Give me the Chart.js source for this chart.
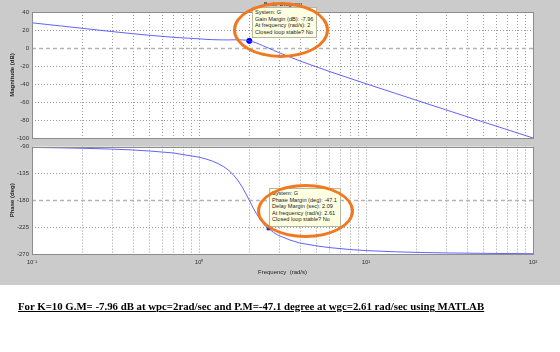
<!DOCTYPE html>
<html>
<head>
<meta charset="utf-8">
<script src="https://cdn.jsdelivr.net/npm/chart.js@4.4.1/dist/chart.umd.min.js"></script>
<style>
  html, body { margin: 0; padding: 0; background: #fff; }
  #fig { position: relative; width: 560px; height: 352px; overflow: hidden; font-family: "Liberation Sans", Arial, sans-serif; }
  #gray { position: absolute; left: 0; top: 0; width: 560px; height: 285px; background: #cbcbcb; }
  canvas { position: absolute; left: 0; }
  #cMag { top: 0; }
  #cPhase { top: 140px; }
  .title { position: absolute; left: 250px; top: 1px; width: 66px; text-align: center; font-size: 6px; color: #222; }
  .tip { position: absolute; background: #ffffe1; border: 1px solid #b8b8a0; font-size: 5.6px; line-height: 6.6px; color: #222; padding: 1px 2px; box-sizing: border-box; white-space: nowrap; }
  .ring { position: absolute; border: 3px solid #f2781f; border-radius: 50%; box-sizing: border-box; }
  #caption { position: absolute; left: 18px; top: 300px; font-family: "Liberation Serif", "Times New Roman", serif; font-weight: bold; font-size: 10.8px; text-decoration: underline; color: #000; white-space: nowrap; }
</style>
</head>
<body>
<div id="fig">
  <div id="gray"></div>
  <canvas id="cMag" width="560" height="145"></canvas>
  <canvas id="cPhase" width="560" height="145"></canvas>
  <div class="tip" style="left:252px;top:7px;width:65px;height:31px;">System: G<br>Gain Margin (dB): -7.96<br>At frequency (rad/s): 2<br>Closed loop stable? No</div>
  <div class="title">Bode Diagram</div>
  <div class="tip" style="left:269px;top:188px;width:72px;height:39px;">System: G<br>Phase Margin (deg): -47.1<br>Delay Margin (sec): 2.09<br>At frequency (rad/s): 2.61<br>Closed loop stable? No</div>
  <div class="ring" style="left:233px;top:2px;width:96px;height:56px;"></div>
  <div class="ring" style="left:257px;top:184px;width:97px;height:54px;"></div>
  <div id="caption">For K=10 G.M= -7.96 dB at wpc=2rad/sec and P.M=-47.1 degree at wgc=2.61 rad/sec using MATLAB</div>
</div>
<script>
  /* ---- data ---- */
  var freq     = [0.1, 0.15, 0.2, 0.3, 0.4, 0.5, 0.7, 1, 1.1, 1.2, 1.3, 1.4, 1.5, 1.6, 1.7, 1.8, 1.9, 2, 2.1, 2.2, 2.3, 2.4, 2.5, 2.61, 2.8, 3, 3.5, 4, 5, 6, 8, 10, 15, 20, 30, 50, 70, 100];
  var magDb    = [28.0, 24.4, 21.9, 18.3, 15.9, 14.2, 11.9, 10.2, 9.6, 9.3, 9.1, 9.0, 9.0, 9.1, 9.1, 9.0, 8.7, 7.96, 6.9, 5.7, 4.2, 2.8, 1.3, -0.1, -2.7, -5.0, -10.0, -14.2, -20.7, -25.9, -33.7, -39.7, -50.4, -58.0, -68.6, -82.0, -90.7, -100.0];
  var phaseDeg = [-91.4, -92.1, -92.8, -94.2, -95.6, -97.3, -100.6, -107.7, -110.7, -114.2, -118.4, -123.4, -129.4, -136.8, -145.8, -156.3, -167.9, -180.0, -191.5, -201.7, -210.3, -217.4, -223.2, -227.1, -234.0, -239.0, -246.5, -251.5, -256.2, -259.2, -262.5, -264.3, -266.3, -267.3, -268.2, -268.9, -269.2, -269.5];

  var gmFreq = [2],    gmMag = [7.96];
  var pmFreq = [2.61], pmPhase = [-227.1];

  var magTicks   = [40, 20, 0, -20, -40, -60, -80, -100];
  var phaseTicks = [-90, -135, -180, -225, -270];
  var decades    = [0.1, 1, 10, 100];
  var decadeLabels = ["10\u207B\u00B9", "10\u2070", "10\u00B9", "10\u00B2"];
  var mults      = [1, 2, 3, 4, 5, 6, 7, 8, 9];

  var gridVals = [];
  decades.forEach(function (d) {
    mults.forEach(function (m) { var v = +(d * m).toPrecision(3); if (v <= 100) gridVals.push(v); });
  });

  function pts(xs, ys) { return xs.map(function (x, i) { return { x: x, y: ys[i] }; }); }

  var FONT = { family: "'Liberation Sans', Arial, sans-serif", size: 6 };

  // white plot area, dotted log grid, dashed reference line (0 dB / -180 deg), frame
  function framePlugin(yTicks, refVal) {
    return {
      id: "frame",
      beforeDraw: function (c) {
        var a = c.chartArea, ctx = c.ctx;
        ctx.save(); ctx.fillStyle = "#fff"; ctx.fillRect(a.left, a.top, a.right - a.left, a.bottom - a.top); ctx.restore();
      },
      beforeDatasetsDraw: function (c) {
        var a = c.chartArea, ctx = c.ctx, sx = c.scales.x, sy = c.scales.y;
        ctx.save();
        ctx.strokeStyle = "#9c9c9c"; ctx.lineWidth = 1; ctx.setLineDash([1, 2]);
        ctx.beginPath();
        gridVals.forEach(function (v) {
          var x = Math.round(sx.getPixelForValue(v)) + 0.5;
          ctx.moveTo(x, a.top); ctx.lineTo(x, a.bottom);
        });
        yTicks.forEach(function (v) {
          if (v === refVal) return;
          var y = Math.round(sy.getPixelForValue(v)) + 0.5;
          ctx.moveTo(a.left, y); ctx.lineTo(a.right, y);
        });
        ctx.stroke();
        var yr = Math.round(sy.getPixelForValue(refVal)) + 0.5;
        ctx.strokeStyle = "#b4b4b4"; ctx.lineWidth = 1.5; ctx.setLineDash([4, 3]);
        ctx.beginPath(); ctx.moveTo(a.left, yr); ctx.lineTo(a.right, yr); ctx.stroke();
        ctx.restore();
      },
      afterDraw: function (c) {
        var a = c.chartArea, ctx = c.ctx;
        ctx.save(); ctx.strokeStyle = "#8c8c8c"; ctx.lineWidth = 1;
        ctx.strokeRect(Math.round(a.left) + 0.5, Math.round(a.top) + 0.5, Math.round(a.right - a.left), Math.round(a.bottom - a.top));
        ctx.restore();
      }
    };
  }

  function xScale(showLabels) {
    return {
      type: "logarithmic", min: 0.1, max: 100,
      afterBuildTicks: function (s) { s.ticks = decades.map(function (v) { return { value: v, major: true }; }); },
      afterFit: function (s) { s.height = showLabels ? 31 : 0; },
      grid: { display: false, drawTicks: false },
      border: { display: false },
      ticks: {
        display: showLabels, autoSkip: false, maxRotation: 0, padding: 5, color: "#333", font: FONT,
        callback: function (v) { var i = decades.indexOf(+(+v).toPrecision(3)); return i >= 0 ? decadeLabels[i] : ""; }
      },
      title: { display: showLabels, text: "Frequency  (rad/s)", color: "#222", font: FONT, padding: { top: 0, bottom: 9 } }
    };
  }

  function yScale(min, max, ticks, label) {
    return {
      min: min, max: max,
      afterBuildTicks: function (s) { s.ticks = ticks.map(function (v) { return { value: v }; }); },
      afterFit: function (s) { s.width = 32; },
      grid: { display: false, drawTicks: false },
      border: { display: false },
      ticks: { color: "#333", font: FONT, padding: 3 },
      title: { display: true, text: label, color: "#222", font: { family: FONT.family, size: 6, weight: "bold" }, padding: { top: 9, bottom: 0 } }
    };
  }

  var LINE = "rgba(70,70,255,0.85)";

  new Chart(document.getElementById("cMag"), {
    type: "line",
    data: { datasets: [
      { data: pts(freq, magDb), borderColor: LINE, borderWidth: 1, pointRadius: 0, tension: 0 },
      { type: "scatter", data: pts(gmFreq, gmMag), backgroundColor: "#0000ee", borderColor: "#0000ee", pointRadius: 2.6 }
    ] },
    options: {
      responsive: false, animation: false, devicePixelRatio: 1,
      layout: { padding: { top: 12, right: 27, bottom: 7, left: 0 } },
      plugins: { legend: { display: false }, tooltip: { enabled: false } },
      scales: { x: xScale(false), y: yScale(-100, 40, magTicks, "Magnitude (dB)") }
    },
    plugins: [framePlugin(magTicks, 0)]
  });

  new Chart(document.getElementById("cPhase"), {
    type: "line",
    data: { datasets: [
      { data: pts(freq, phaseDeg), borderColor: LINE, borderWidth: 1, pointRadius: 0, tension: 0 },
      { type: "scatter", data: pts(pmFreq, pmPhase), backgroundColor: "#1a1aa0", borderColor: "#1a1aa0", pointStyle: "rect", pointRadius: 2 }
    ] },
    options: {
      responsive: false, animation: false, devicePixelRatio: 1,
      layout: { padding: { top: 5, right: 27, bottom: 0, left: 0 } },
      plugins: { legend: { display: false }, tooltip: { enabled: false } },
      scales: { x: xScale(true), y: yScale(-270, -90, phaseTicks, "Phase (deg)") }
    },
    plugins: [framePlugin(phaseTicks, -180)]
  });
</script>
</body>
</html>
